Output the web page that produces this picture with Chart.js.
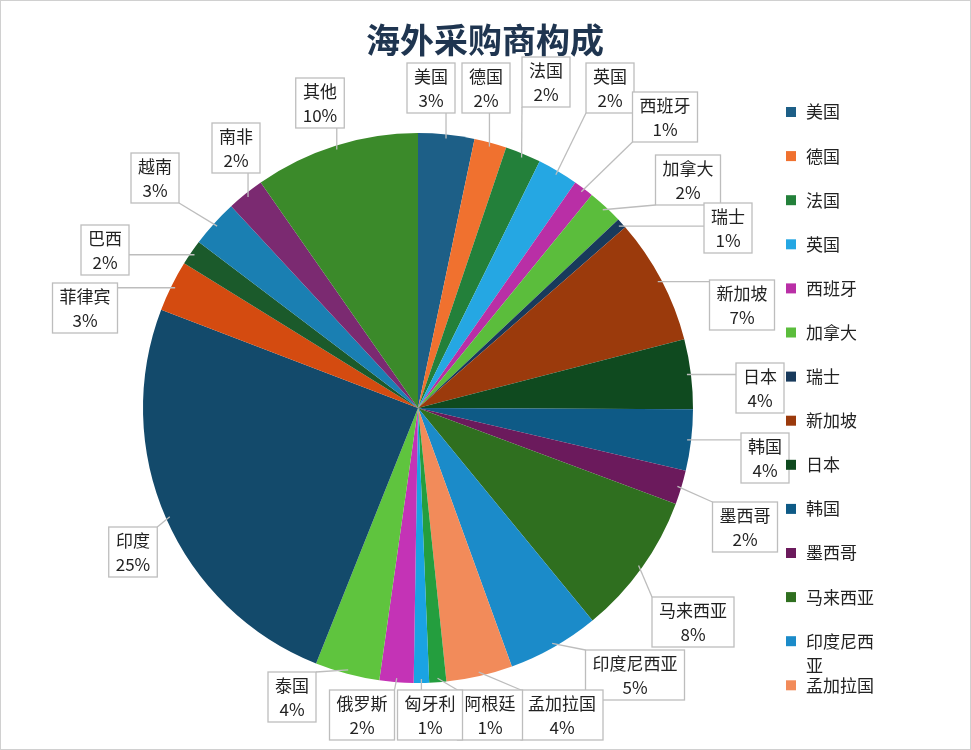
<!DOCTYPE html>
<html><head><meta charset="utf-8">
<script src="https://cdn.jsdelivr.net/npm/chart.js@4/dist/chart.umd.min.js"></script>
<style>body{margin:0;background:#fff}canvas{display:block}</style>
</head><body><canvas id="c" width="971" height="750"></canvas>
<script>
const categories=['美国','德国','法国','英国','西班牙','加拿大','瑞士','新加坡','日本','韩国','墨西哥','马来西亚','印度尼西亚','孟加拉国','阿根廷','匈牙利','俄罗斯','泰国','印度','菲律宾','巴西','越南','南非','其他'];
const values=[3.3,1.9,2.1,2.4,1.2,2.1,0.6,7.4,4.1,3.6,2.0,8.4,5.4,3.9,1.0,0.9,2.0,3.8,24.8,3.0,1.5,2.8,2.2,9.7];
const percentLabels=['3%','2%','2%','2%','1%','2%','1%','7%','4%','4%','2%','8%','5%','4%','1%','1%','2%','4%','25%','3%','2%','3%','2%','10%'];
const colors=['#1d5f87','#f0712f','#23803a','#25a7e3','#b92fa6','#5bbd3c','#183a5c','#9b3a0c','#0f4a1f','#0e5a86','#6b1a5c','#2f6f1f','#1b8bc9','#f28b5a','#249e3e','#1aa3e3','#c433b6','#5fc43e','#134a6b','#d44b10','#1b5a2b','#1a7fb2','#7b2a71','#3b8a2a'];
const legendCount=14;
// callout label anchor layout
const labelPos=[[431,88],[486,88],[546,82],[610,88],[665,117],[688,180],[728,228],[742,305],[760,388],[765,458],[745,527],[693,622],[635,675],[562,715],[490,715],[430,715],[362,715],[292,697],[133,552],[85,308],[105,250],[155,178],[236,148],[320,103]];
const FONT='17px "Noto Sans CJK SC", sans-serif';
const deco={id:'deco',afterDraw(chart){
  const ctx=chart.ctx;ctx.save();
  ctx.fillStyle='#1f3550';ctx.font='bold 34px "Noto Sans CJK SC", sans-serif';ctx.textAlign='center';ctx.textBaseline='middle';
  ctx.fillText('海外采购商构成',485,40);
  const arcs=chart.getDatasetMeta(0).data;
  ctx.font=FONT;
  arcs.forEach((a,i)=>{
    const mid=(a.startAngle+a.endAngle)/2;
    const ex=a.x+Math.cos(mid)*(a.outerRadius-4), ey=a.y+Math.sin(mid)*(a.outerRadius-4);
    const [cx,cy]=labelPos[i];
    const w=Math.max(ctx.measureText(categories[i]).width,ctx.measureText(percentLabels[i]).width)+14, h=50;
    const bx=cx-w/2, by=cy-h/2;
    const px=Math.max(bx,Math.min(bx+w,ex)), py=Math.max(by,Math.min(by+h,ey));
    ctx.strokeStyle='#bdbdbd';ctx.lineWidth=1.3;
    ctx.beginPath();ctx.moveTo(ex,ey);ctx.lineTo(px,py);ctx.stroke();
    ctx.fillStyle='#fff';ctx.fillRect(bx,by,w,h);ctx.strokeRect(bx,by,w,h);
    ctx.fillStyle='#222';ctx.textAlign='center';
    ctx.fillText(categories[i],cx,cy-11);ctx.fillText(percentLabels[i],cx,cy+13);
  });
  ctx.textAlign='left';
  for(let i=0;i<legendCount;i++){
    const y=112+i*44.1;
    ctx.fillStyle=colors[i];ctx.fillRect(786,y-5,10,10);
    ctx.fillStyle='#222';
    if(categories[i]==='印度尼西亚'){ctx.fillText('印度尼西',806,y);ctx.fillText('亚',806,y+24);}
    else ctx.fillText(categories[i],806,y);
  }
  ctx.strokeStyle='#d0d0d0';ctx.lineWidth=1;ctx.strokeRect(0.5,0.5,970,749);
  ctx.restore();
}};
new Chart(document.getElementById('c'),{type:'pie',
 data:{labels:categories,datasets:[{data:values,backgroundColor:colors,borderWidth:0}]},
 options:{responsive:false,animation:false,layout:{padding:{left:143,right:278,top:133,bottom:67}},
  plugins:{legend:{display:false},tooltip:{enabled:false}}},
 plugins:[deco]});
</script></body></html>
